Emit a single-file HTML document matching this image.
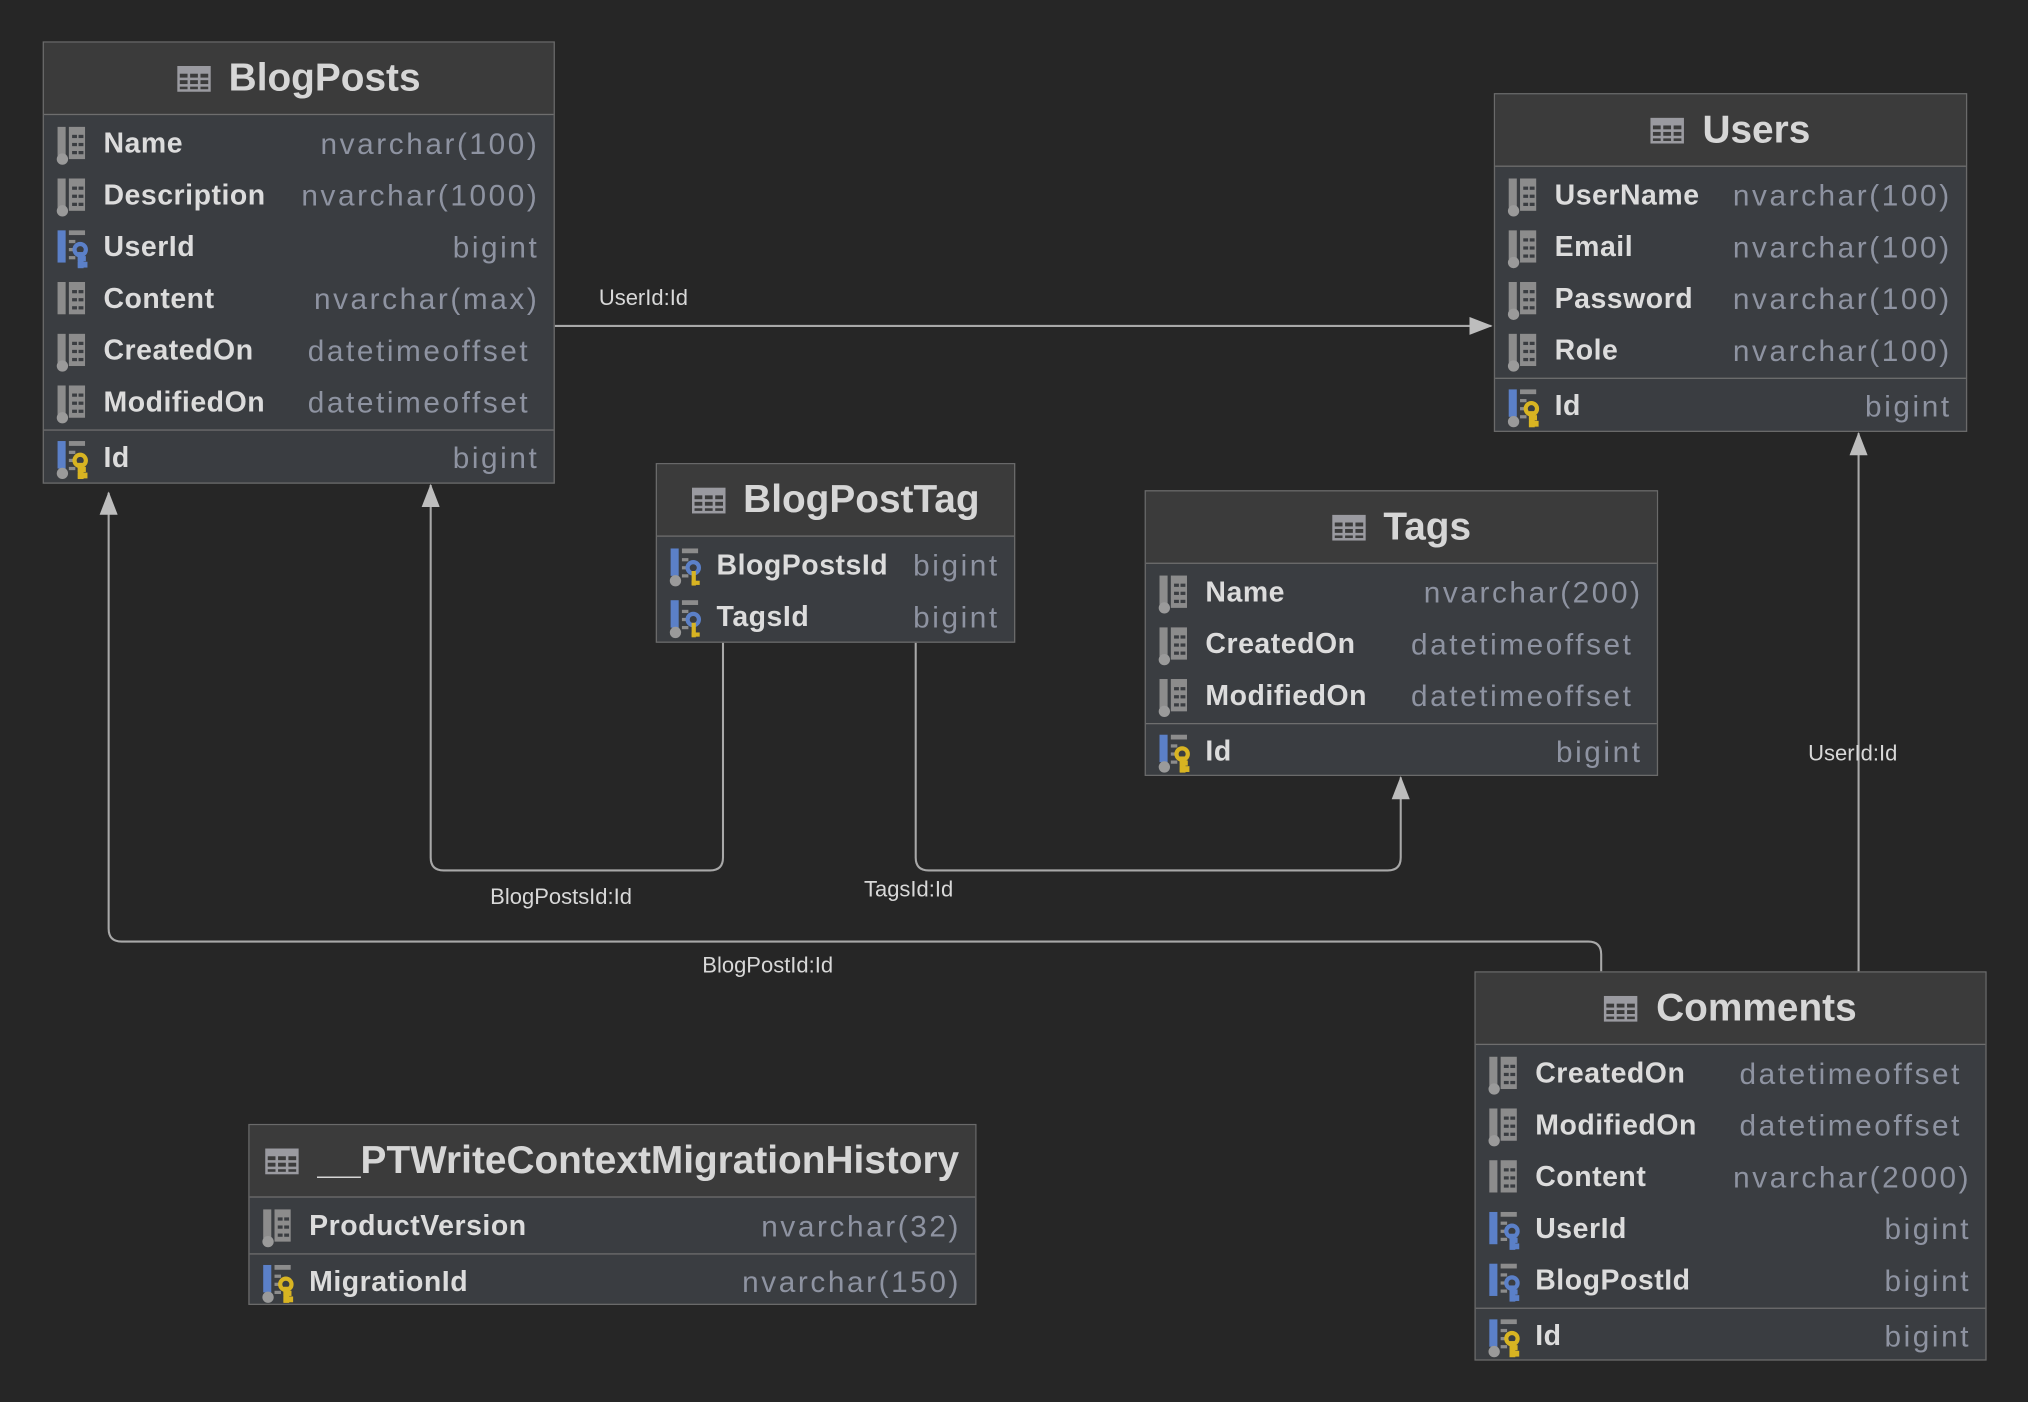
<!DOCTYPE html>
<html><head><meta charset="utf-8"><style>
html,body{margin:0;padding:0;background:#262626;width:2028px;height:1402px;overflow:hidden}
#c{position:absolute;left:0;top:0;width:1568px;height:1084px;transform:scale(1.29337);transform-origin:0 0;font-family:"Liberation Sans",sans-serif}
.t{position:absolute;background:#3a3d41;border:1px solid #6a6a6a;box-sizing:border-box}
.h{height:55px;background:#3b3b3b;border-bottom:1px solid #6e6e6e;display:flex;align-items:center;justify-content:center;color:#d6d6d6;font-weight:bold;font-size:30px}
.h svg{margin-right:14px}
.s{padding:2px 0 1px}
.s2{border-top:1px solid #6e6e6e;padding:1px 0 0}
.r{position:relative;height:40px;line-height:40px;font-size:22px}
.r svg{position:absolute;left:9px;top:7px}
.n{position:absolute;left:46px;color:#dcdcdc;font-weight:bold;letter-spacing:0.4px}
.y{position:absolute;right:11px;color:#8e93a1;letter-spacing:2px;font-size:23px}
.lbl{position:absolute;color:#d8d8d8;font-size:17px}
</style></head><body><div id="c">
<svg width="0" height="0" style="position:absolute">
<defs>
<g id="tb"><rect x="0" y="0" width="26" height="20" fill="#9a9aa0"/><g fill="#3b3b3b"><rect x="2" y="6" width="6" height="3"/><rect x="10" y="6" width="6" height="3"/><rect x="18" y="6" width="6" height="3"/><rect x="2" y="11" width="6" height="3"/><rect x="10" y="11" width="6" height="3"/><rect x="18" y="11" width="6" height="3"/><rect x="2" y="16" width="6" height="2"/><rect x="10" y="16" width="6" height="2"/><rect x="18" y="16" width="6" height="2"/></g></g>
<g id="grid"><rect x="7" y="0" width="10" height="20" fill="#8c8c8c"/><g fill="#3a3d41"><rect x="9" y="5" width="3" height="2"/><rect x="13" y="5" width="3" height="2"/><rect x="9" y="10" width="3" height="2"/><rect x="13" y="10" width="3" height="2"/><rect x="9" y="15" width="3" height="2"/><rect x="13" y="15" width="3" height="2"/></g></g>
<g id="col"><rect x="0" y="0" width="5" height="18" fill="#8c8c8c"/><use href="#grid"/><circle cx="3" cy="20" r="3.5" fill="#9a9a9a"/></g>
<g id="coln"><rect x="0" y="0" width="5" height="20" fill="#8c8c8c"/><use href="#grid"/></g>
<g id="key"><circle cx="14" cy="12" r="3.5" fill="none" stroke-width="2.6"/><rect x="13" y="14" width="2.6" height="9"/><rect x="13" y="20" width="5" height="2.6"/><rect x="13" y="16.5" width="4" height="2.2"/></g>
<g id="fk"><rect x="0" y="0" width="5" height="20" fill="#5b80c8"/><rect x="7" y="0" width="10" height="3" fill="#8c8c8c"/><g fill="#8c8c8c"><rect x="7" y="6" width="4" height="2"/><rect x="7" y="11" width="4" height="2"/><rect x="7" y="16" width="4" height="2"/></g><g fill="#5b80c8" stroke="#5b80c8"><use href="#key"/></g></g>
<g id="pk"><rect x="0" y="0" width="5" height="17" fill="#5b80c8"/><rect x="7" y="0" width="10" height="3" fill="#8c8c8c"/><g fill="#8c8c8c"><rect x="7" y="6" width="4" height="2"/><rect x="7" y="11" width="4" height="2"/><rect x="7" y="16" width="4" height="2"/></g><circle cx="3" cy="20" r="3.5" fill="#9a9a9a"/><g fill="#d8b422" stroke="#d8b422"><use href="#key"/></g></g>
<g id="pkfk"><rect x="0" y="0" width="5" height="17" fill="#5b80c8"/><rect x="7" y="0" width="10" height="3" fill="#8c8c8c"/><g fill="#8c8c8c"><rect x="7" y="6" width="4" height="2"/><rect x="7" y="11" width="4" height="2"/><rect x="7" y="16" width="4" height="2"/></g><circle cx="3" cy="20" r="3.5" fill="#9a9a9a"/><g fill="#d8b422" stroke="#5b80c8"><circle cx="14" cy="12" r="3.5" fill="none" stroke-width="2.6"/></g><rect x="13" y="14" width="2.6" height="9" fill="#d8b422"/><rect x="13" y="20" width="5" height="2.6" fill="#d8b422"/></g>
<marker id="ar" markerWidth="18" markerHeight="14" refX="17" refY="7" orient="auto" markerUnits="userSpaceOnUse"><path d="M0,0 L18,7 L0,14 z" fill="#bdbdbd"/></marker>
</defs></svg>

<svg style="position:absolute;left:0;top:0" width="1568" height="1084">
<g fill="none" stroke="#a8a8a8" stroke-width="1.6">
<path d="M428,252 H1153" marker-end="url(#ar)"/>
<path d="M559,496 V663 Q559,673 549,673 H343 Q333,673 333,663 V375" marker-end="url(#ar)"/>
<path d="M708,496 V663 Q708,673 718,673 H1073 Q1083,673 1083,663 V601" marker-end="url(#ar)"/>
<path d="M1238,751 V738 Q1238,728 1228,728 H94 Q84,728 84,718 V381" marker-end="url(#ar)"/>
<path d="M1437,751 V335" marker-end="url(#ar)"/>
</g></svg>
<div class="lbl" style="left:463px;top:221px">UserId:Id</div>
<div class="lbl" style="left:379px;top:684px">BlogPostsId:Id</div>
<div class="lbl" style="left:668px;top:678px">TagsId:Id</div>
<div class="lbl" style="left:543px;top:737px">BlogPostId:Id</div>
<div class="lbl" style="left:1398px;top:573px">UserId:Id</div>

<div class="t" style="left:33px;top:32px;width:396px;height:342px">
<div class="h"><svg width="26" height="20"><use href="#tb"/></svg>BlogPosts</div>
<div class="s">
<div class="r"><svg width="28" height="30" viewBox="0 0 20 24"><use href="#col"/></svg><span class="n">Name</span><span class="y">nvarchar(100)</span></div>
<div class="r"><svg width="28" height="30" viewBox="0 0 20 24"><use href="#col"/></svg><span class="n">Description</span><span class="y">nvarchar(1000)</span></div>
<div class="r"><svg width="28" height="30" viewBox="0 0 20 24"><use href="#fk"/></svg><span class="n">UserId</span><span class="y">bigint</span></div>
<div class="r"><svg width="28" height="30" viewBox="0 0 20 24"><use href="#coln"/></svg><span class="n">Content</span><span class="y">nvarchar(max)</span></div>
<div class="r"><svg width="28" height="30" viewBox="0 0 20 24"><use href="#col"/></svg><span class="n">CreatedOn</span><span class="y" style="right:18px">datetimeoffset</span></div>
<div class="r"><svg width="28" height="30" viewBox="0 0 20 24"><use href="#col"/></svg><span class="n">ModifiedOn</span><span class="y" style="right:18px">datetimeoffset</span></div>
</div>
<div class="s2"><div class="r"><svg width="28" height="30" viewBox="0 0 20 24"><use href="#pk"/></svg><span class="n">Id</span><span class="y">bigint</span></div></div>
</div>

<div class="t" style="left:1155px;top:72px;width:366px;height:262px">
<div class="h"><svg width="26" height="20"><use href="#tb"/></svg>Users</div>
<div class="s">
<div class="r"><svg width="28" height="30" viewBox="0 0 20 24"><use href="#col"/></svg><span class="n">UserName</span><span class="y">nvarchar(100)</span></div>
<div class="r"><svg width="28" height="30" viewBox="0 0 20 24"><use href="#col"/></svg><span class="n">Email</span><span class="y">nvarchar(100)</span></div>
<div class="r"><svg width="28" height="30" viewBox="0 0 20 24"><use href="#col"/></svg><span class="n">Password</span><span class="y">nvarchar(100)</span></div>
<div class="r"><svg width="28" height="30" viewBox="0 0 20 24"><use href="#col"/></svg><span class="n">Role</span><span class="y">nvarchar(100)</span></div>
</div>
<div class="s2"><div class="r"><svg width="28" height="30" viewBox="0 0 20 24"><use href="#pk"/></svg><span class="n">Id</span><span class="y">bigint</span></div></div>
</div>

<div class="t" style="left:507px;top:358px;width:278px;height:139px">
<div class="h"><svg width="26" height="20"><use href="#tb"/></svg>BlogPostTag</div>
<div class="s">
<div class="r"><svg width="28" height="30" viewBox="0 0 20 24"><use href="#pkfk"/></svg><span class="n">BlogPostsId</span><span class="y">bigint</span></div>
<div class="r"><svg width="28" height="30" viewBox="0 0 20 24"><use href="#pkfk"/></svg><span class="n">TagsId</span><span class="y">bigint</span></div>
</div></div>

<div class="t" style="left:885px;top:379px;width:397px;height:221px">
<div class="h"><svg width="26" height="20"><use href="#tb"/></svg>Tags</div>
<div class="s">
<div class="r"><svg width="28" height="30" viewBox="0 0 20 24"><use href="#col"/></svg><span class="n">Name</span><span class="y">nvarchar(200)</span></div>
<div class="r"><svg width="28" height="30" viewBox="0 0 20 24"><use href="#col"/></svg><span class="n">CreatedOn</span><span class="y" style="right:18px">datetimeoffset</span></div>
<div class="r"><svg width="28" height="30" viewBox="0 0 20 24"><use href="#col"/></svg><span class="n">ModifiedOn</span><span class="y" style="right:18px">datetimeoffset</span></div>
</div>
<div class="s2"><div class="r"><svg width="28" height="30" viewBox="0 0 20 24"><use href="#pk"/></svg><span class="n">Id</span><span class="y">bigint</span></div></div>
</div>

<div class="t" style="left:1140px;top:751px;width:396px;height:301px">
<div class="h"><svg width="26" height="20"><use href="#tb"/></svg>Comments</div>
<div class="s">
<div class="r"><svg width="28" height="30" viewBox="0 0 20 24"><use href="#col"/></svg><span class="n">CreatedOn</span><span class="y" style="right:18px">datetimeoffset</span></div>
<div class="r"><svg width="28" height="30" viewBox="0 0 20 24"><use href="#col"/></svg><span class="n">ModifiedOn</span><span class="y" style="right:18px">datetimeoffset</span></div>
<div class="r"><svg width="28" height="30" viewBox="0 0 20 24"><use href="#coln"/></svg><span class="n">Content</span><span class="y">nvarchar(2000)</span></div>
<div class="r"><svg width="28" height="30" viewBox="0 0 20 24"><use href="#fk"/></svg><span class="n">UserId</span><span class="y">bigint</span></div>
<div class="r"><svg width="28" height="30" viewBox="0 0 20 24"><use href="#fk"/></svg><span class="n">BlogPostId</span><span class="y">bigint</span></div>
</div>
<div class="s2"><div class="r"><svg width="28" height="30" viewBox="0 0 20 24"><use href="#pk"/></svg><span class="n">Id</span><span class="y">bigint</span></div></div>
</div>

<div class="t" style="left:192px;top:869px;width:563px;height:140px">
<div class="h"><svg width="26" height="20"><use href="#tb"/></svg>__PTWriteContextMigrationHistory</div>
<div class="s">
<div class="r"><svg width="28" height="30" viewBox="0 0 20 24"><use href="#col"/></svg><span class="n">ProductVersion</span><span class="y">nvarchar(32)</span></div>
</div>
<div class="s2"><div class="r"><svg width="28" height="30" viewBox="0 0 20 24"><use href="#pk"/></svg><span class="n">MigrationId</span><span class="y">nvarchar(150)</span></div></div>
</div>
</div></body></html>
